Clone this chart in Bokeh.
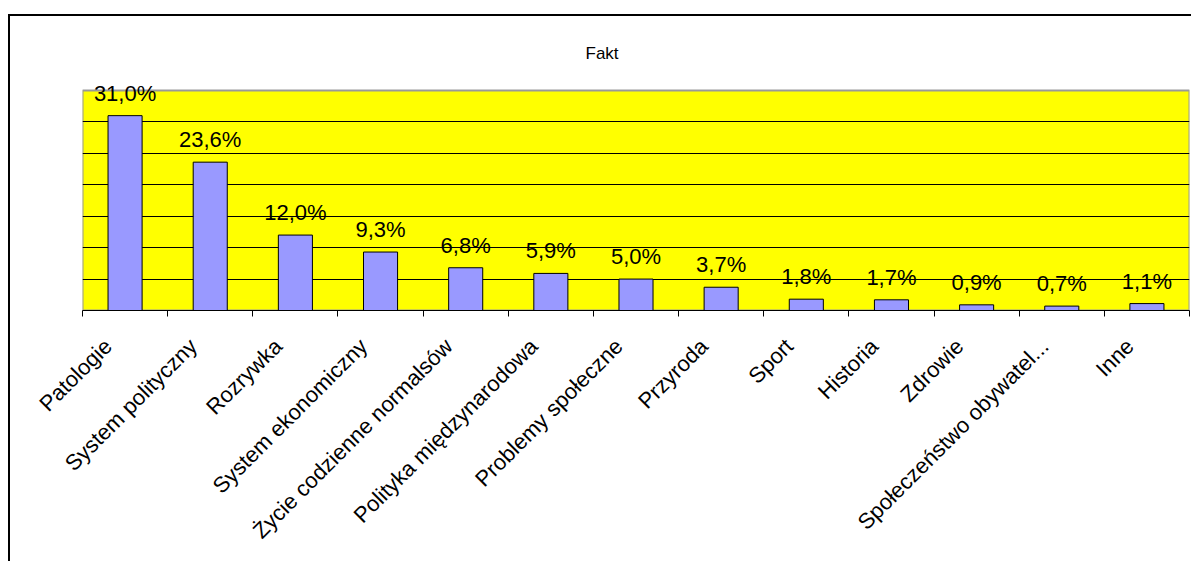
import math
from bokeh.plotting import figure
from bokeh.models import ColumnDataSource, LabelSet, FixedTicker, Range1d
from bokeh.core.properties import value
from bokeh.embed import file_html
from bokeh.resources import INLINE

categories = ["Patologie", "System polityczny", "Rozrywka", "System ekonomiczny",
              "Życie codzienne normalsów", "Polityka międzynarodowa", "Problemy społeczne",
              "Przyroda", "Sport", "Historia", "Zdrowie", "Społeczeństwo obywatel...", "Inne"]
values = [31.0, 23.6, 12.0, 9.3, 6.8, 5.9, 5.0, 3.7, 1.8, 1.7, 0.9, 0.7, 1.1]
title_text = "Fakt"
grid_ticks = [5, 10, 15, 20, 25, 30]
axis_max = 35

n = len(categories)
xs = [i + 0.5 for i in range(n)]
labels = [("%.1f" % v).replace(".", ",") + "%" for v in values]
src = ColumnDataSource(dict(x=xs, top=values, label=labels))

FONT = "Liberation Sans"
PLOT_H = 220      # pixel height of the 0..axis_max plot area
FRAME_H = 229     # frame a little taller so the value labels are not clipped

p = figure(width=1181, height=545, output_backend="svg", toolbar_location=None,
           x_range=Range1d(0, n), y_range=Range1d(0, axis_max * FRAME_H / PLOT_H),
           frame_width=1107, frame_height=FRAME_H,
           min_border_left=72, min_border_right=2, min_border_top=65, min_border_bottom=251,
           title=title_text)
p.title.align = "left"
p.title.offset = 503
p.title.text_font = FONT
p.title.text_font_size = "17px"
p.title.text_font_style = "normal"
p.title.text_color = "black"
p.title.vertical_align = "top"
p.title.standoff = 34

p.background_fill_color = "white"
p.border_fill_color = "white"
p.outline_line_color = None
p.styles = {"border-left": "2px solid black", "border-top": "2px solid black",
            "margin-top": "14px", "margin-left": "8px"}

# yellow plot area with grey border
p.quad(left=0, right=n, bottom=0, top=axis_max, fill_color="#FFFF00",
       line_color="#999999", line_width=2, level="image")

p.vbar(x="x", top="top", width=0.4, source=src, fill_color="#9999FF",
       line_color="black", line_width=1)

p.add_layout(LabelSet(x="x", y="top", text="label", source=src, text_align="center",
                      text_baseline="alphabetic", y_offset=15, text_font=value(FONT),
                      text_font_size=value("22px"), text_color="black"))

p.yaxis.visible = False
p.ygrid.ticker = FixedTicker(ticks=grid_ticks)
p.ygrid.grid_line_color = "black"
p.ygrid.grid_line_width = 1
p.xgrid.visible = False

label_shift = 0.2
label_pos = [x - label_shift for x in xs]
ax = p.xaxis[0]
ax.ticker = FixedTicker(ticks=label_pos, minor_ticks=list(range(n + 1)))
ax.major_label_overrides = {x: c for x, c in zip(label_pos, categories)}
ax.major_label_orientation = math.pi / 4
ax.major_tick_in = 0
ax.major_tick_out = 0
ax.minor_tick_in = 0
ax.minor_tick_out = 6
ax.minor_tick_line_color = "black"
ax.axis_line_color = "black"
ax.axis_line_width = 1
ax.major_label_text_font = FONT
ax.major_label_text_font_size = "22px"
ax.major_label_text_color = "black"
ax.major_label_standoff = 26

open("out.html", "w").write(file_html(p, INLINE))
